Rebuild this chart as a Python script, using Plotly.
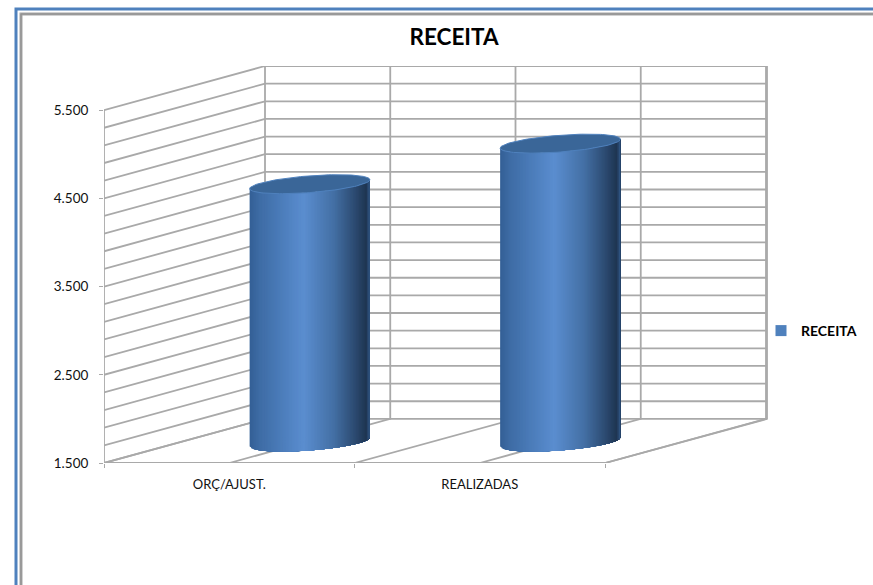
import numpy as np
import plotly.graph_objects as go

categories = ["ORÇ/AJUST.", "REALIZADAS"]
values = [4410, 4870]
series_name = "RECEITA"
y_ticks = [1500, 2500, 3500, 4500, 5500]
y_labels = ["1.500", "2.500", "3.500", "4.500", "5.500"]
grid_values = list(range(1500, 5501, 200))

W, H = 873, 585
L, R, T, B = 104, 767, 66, 463
UNIT = 250.5
DX = 161 / UNIT           # depth shift, category units
DY = 500.0                # depth shift, value units
XWALL = (R - L) / UNIT
XMAX = (W - L) / UNIT     # plot area runs to the page edge so the legend sits inside it
YMIN, YMAX = 1500, 6000
GRID = "#a9a9a9"

fig = go.Figure()


def line(xs, ys, color=GRID, width=1.8):
    fig.add_trace(go.Scatter(x=xs, y=ys, mode="lines", showlegend=False, hoverinfo="skip",
                             line=dict(color=color, width=width), cliponaxis=False))


# walls and floor grid
gx, gy = [], []
for v in grid_values:
    gx += [0, DX, XWALL, None]
    gy += [v, v + DY, v + DY, None]
for k in range(0, 5):
    x = k * 0.5
    gx += [x, x + DX, x + DX, None]
    gy += [1500, 2000, 6000, None]
line(gx, gy)
line([0, 0, None, 0, 2], [1500, 5500, None, 1500, 1500])
line([2, XWALL, XWALL], [1500, 2000, 6000])

# cylinders: each band paints from its left edge to the right side, so no seams show
stops_u = [0.0, 0.08, 0.45, 0.70, 0.88, 0.97, 1.0]
stops_c = [(52, 96, 150), (62, 108, 165), (91, 142, 208), (68, 112, 165),
           (44, 74, 112), (31, 53, 82), (50, 90, 140)]
A, TILT, BB = 0.24, 51.0, 95.0
N = 80


def colour(f):
    c = [np.interp(f, stops_u, [s[i] for s in stops_c]) for i in range(3)]
    return "rgb(%d,%d,%d)" % tuple(c)


for i, val in enumerate(values):
    cx = i + 0.5 + DX / 2
    base = 1500 + DY / 2 - 12
    top = val + DY / 2
    edges = np.linspace(-1, 1, N + 1)
    for j in range(N):
        u = np.linspace(edges[j], 1, 24)
        root = np.sqrt(np.clip(1 - u * u, 0, 1))
        xs = cx + A * u
        y_top = top + TILT * u - BB * root
        y_bot = base + TILT * u - BB * root
        fig.add_trace(go.Scatter(
            x=list(xs) + list(xs[::-1]), y=list(y_top) + list(y_bot[::-1]),
            mode="none", fill="toself", fillcolor=colour((j + 0.5) / N),
            showlegend=False, hoverinfo="skip", cliponaxis=False))
    t = np.linspace(0, 2 * np.pi, 121)
    fig.add_trace(go.Scatter(
        x=cx + A * np.cos(t), y=top + TILT * np.cos(t) + BB * np.sin(t),
        mode="lines", fill="toself", fillcolor="#3a6698", line=dict(color="#4f81bd", width=1),
        showlegend=False, hoverinfo="skip", cliponaxis=False))

# legend entry
fig.add_trace(go.Scatter(x=[None], y=[None], mode="markers", name=series_name,
                         marker=dict(symbol="square", size=11, color="#4f81bd")))


def px(x):
    return (x - L) / (W - L)


def py(y):
    return (B - y) / (B - T)


def frame(x0, y0, color, width):
    fig.add_shape(type="rect", xref="paper", yref="paper", x0=px(x0), y0=py(y0),
                  x1=px(W + 20), y1=py(H + 20), line=dict(color=color, width=width),
                  fillcolor="rgba(0,0,0,0)", layer="below")


frame(16, 9, "#4f81bd", 3)
frame(21, 14, "#a6a6a6", 3)
frame(21, 14, "#8c8c8c", 1)

fig.update_layout(
    width=W, height=H, autosize=False,
    margin=dict(l=L, r=0, t=T, b=H - B),
    paper_bgcolor="white", plot_bgcolor="white",
    font=dict(family="Lato", color="#111111", size=13),
    title=dict(text="<b>RECEITA</b>", font=dict(family="Lato", size=22.5, color="black"),
               x=454 / W, xanchor="center", xref="container",
               y=1 - 37 / H, yanchor="middle"),
    xaxis=dict(range=[0, XMAX], tickvals=[0.5, 1.5], ticktext=categories, showgrid=False, zeroline=False,
               ticks="", showline=False, ticklabelstandoff=12, tickfont=dict(size=13),
               minor=dict(tickvals=[0, 1, 2], ticks="outside", ticklen=4, tickcolor=GRID, tickwidth=1.2)),
    yaxis=dict(range=[YMIN, YMAX], tickvals=y_ticks, ticktext=y_labels, showgrid=False, zeroline=False,
               ticks="outside", ticklen=4, tickcolor=GRID, tickwidth=1.2, showline=False,
               ticklabelstandoff=8, tickfont=dict(size=13.5)),
    legend=dict(x=px(761), y=py(331), xanchor="left", yanchor="middle", itemwidth=30,
                font=dict(family="Lato", size=14, color="black", weight="bold"),
                bgcolor="rgba(0,0,0,0)"),
    showlegend=True,
)

fig.write_html("out.html", config={"displayModeBar": False},
               post_script="document.body.style.margin='0';document.body.style.overflow='hidden';")
